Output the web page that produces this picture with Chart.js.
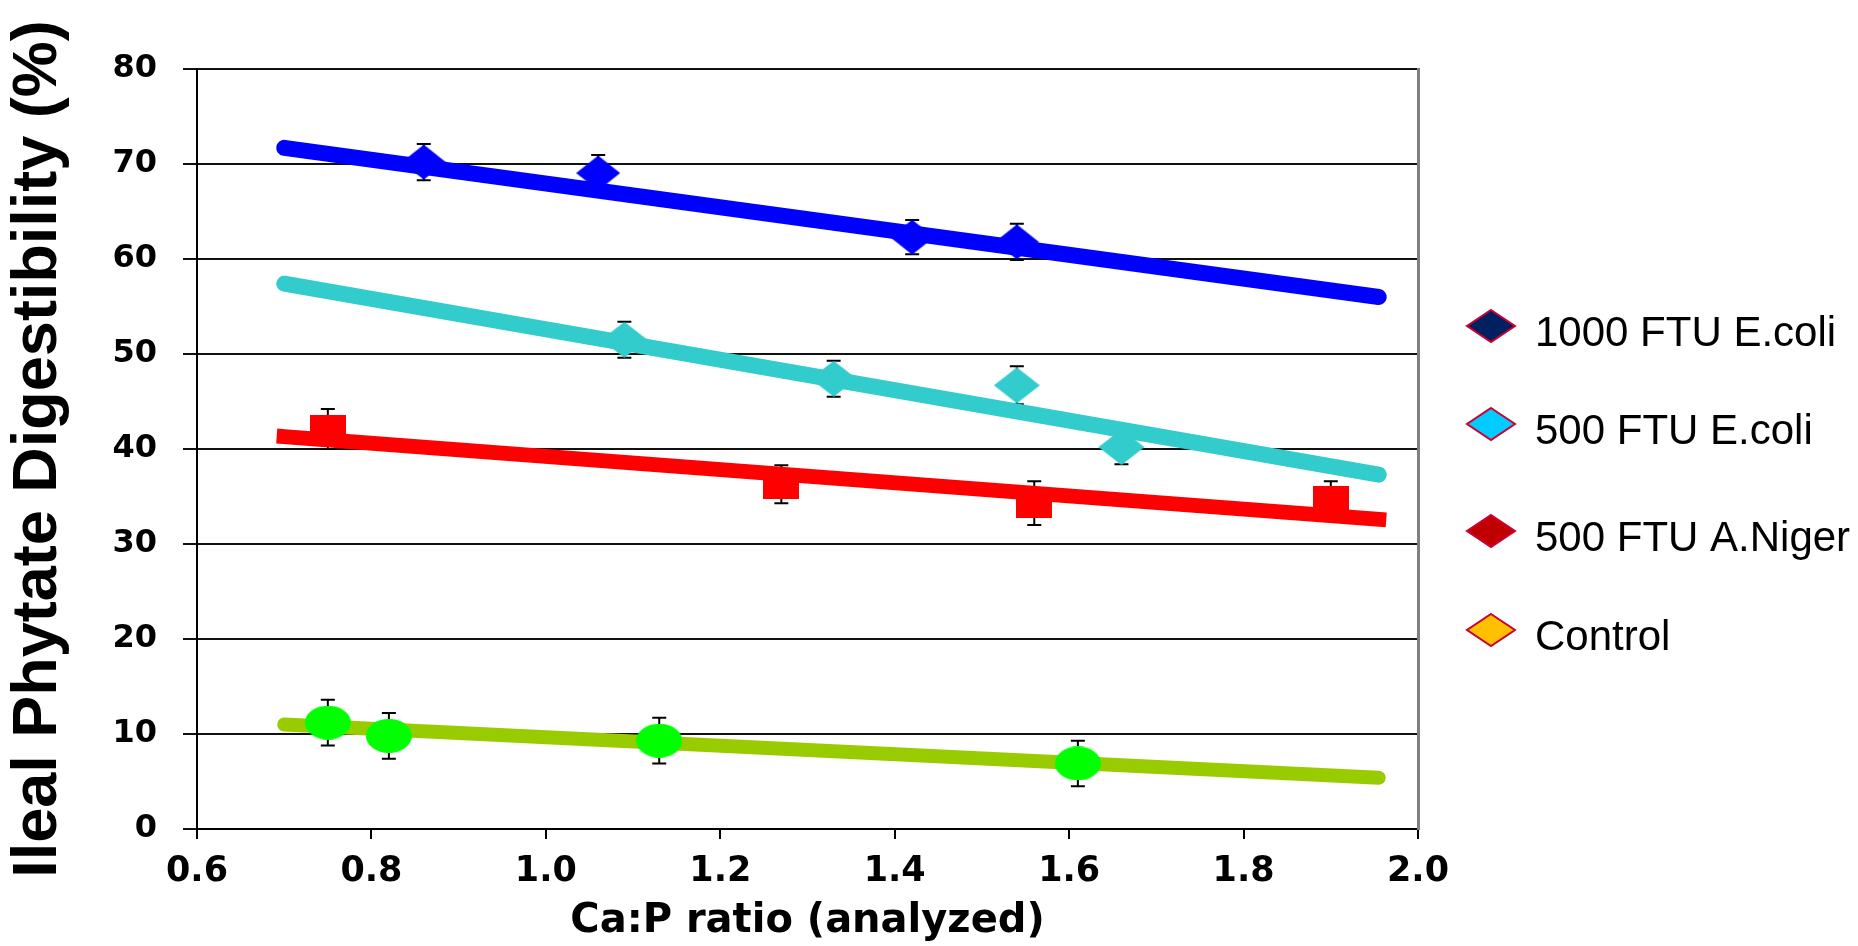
<!DOCTYPE html>
<html>
<head>
<meta charset="utf-8">
<script src="https://cdn.jsdelivr.net/npm/chart.js@4/dist/chart.umd.min.js"></script>
<style>
  html, body { margin: 0; padding: 0; background: #fff; }
  canvas { display: block; }
</style>
</head>
<body>
<canvas id="phytateChart" width="1858" height="946" style="width:1858px;height:946px"></canvas>
<script>
// series names as shown in the legend
var seriesNames = ['1000 FTU E.coli', '500 FTU E.coli', '500 FTU A.Niger', 'Control']

// measured points (Ca:P ratio, digestibility %), with +/- error
var ecoli1000X = [0.86, 1.06, 1.42, 1.54]
var ecoli1000Y = [70.2, 69.05, 62.3, 61.8]
var ecoli1000Err = [1.9, 1.9, 1.8, 1.9]

var ecoli500X = [1.09, 1.33, 1.54, 1.66]
var ecoli500Y = [51.5, 47.4, 46.7, 40.2]
var ecoli500Err = [1.9, 1.9, 2.0, 1.8]

var nigerX = [0.75, 1.27, 1.56, 1.90]
var nigerY = [42.1, 36.3, 34.3, 34.6]
var nigerErr = [2.1, 2.0, 2.3, 2.0]

var controlX = [0.75, 0.82, 1.13, 1.61]
var controlY = [11.2, 9.8, 9.3, 6.9]
var controlErr = [2.4, 2.4, 2.4, 2.4]

// linear trend lines, start and end
var trendX = [0.70, 1.955]
var trend1000 = [71.7, 56.0]
var trend500 = [57.4, 37.3]
var trendNiger = [41.3, 32.6]
var trendControl = [11.0, 5.4]

var xTickStep = 0.2
var yTickStep = 10

function toPoints(xs, ys) {
    var pts = []
    for (var i = 0; i < xs.length; i++) {
        pts.push({ x: xs[i], y: ys[i] })
    }
    return pts
}

function marker(shape, w, h, color) {
    var c = document.createElement('canvas')
    c.width = w
    c.height = h
    var g = c.getContext('2d')
    g.fillStyle = color
    g.beginPath()
    if (shape == 'diamond') {
        g.moveTo(w / 2, 0); g.lineTo(w, h / 2); g.lineTo(w / 2, h); g.lineTo(0, h / 2); g.closePath()
    } else if (shape == 'ellipse') {
        g.ellipse(w / 2, h / 2, w / 2, h / 2, 0, 0, Math.PI * 2)
    } else {
        g.rect(0, 0, w, h)
    }
    g.fill()
    return c
}

// error bars drawn under the markers, through the chart's own scales
var errorBars = {
    id: 'errorBars',
    beforeDatasetsDraw: function(chart) {
        var ctx = chart.ctx
        var xs = chart.scales.x
        var ys = chart.scales.y
        ctx.save()
        ctx.strokeStyle = '#000'
        ctx.lineWidth = 2
        chart.data.datasets.forEach(function(ds) {
            if (!ds.errors) return
            ds.data.forEach(function(p, i) {
                var px = xs.getPixelForValue(p.x)
                var top = ys.getPixelForValue(p.y + ds.errors[i])
                var bot = ys.getPixelForValue(p.y - ds.errors[i])
                ctx.beginPath()
                ctx.moveTo(px, top); ctx.lineTo(px, bot)
                ctx.moveTo(px - 7, top); ctx.lineTo(px + 7, top)
                ctx.moveTo(px - 7, bot); ctx.lineTo(px + 7, bot)
                ctx.stroke()
            })
        })
        ctx.restore()
    }
}

// legend as it appears in the original (its own colours)
var legendFill = ['#002060', '#00ccff', '#c00000', '#ffc000']
var legendBox = {
    id: 'legendBox',
    afterDraw: function(chart, args, opts) {
        var ctx = chart.ctx
        ctx.save()
        seriesNames.forEach(function(name, i) {
            var cx = opts.x
            var cy = opts.y[i]
            ctx.beginPath()
            ctx.moveTo(cx, cy - 16); ctx.lineTo(cx + 24, cy); ctx.lineTo(cx, cy + 16); ctx.lineTo(cx - 24, cy)
            ctx.closePath()
            ctx.fillStyle = legendFill[i]
            ctx.fill()
            ctx.strokeStyle = '#cc0033'
            ctx.lineWidth = 2
            ctx.stroke()
            ctx.fillStyle = '#000'
            ctx.font = '42px "Liberation Sans", Arial, sans-serif'
            ctx.textBaseline = 'middle'
            ctx.textAlign = 'left'
            ctx.fillText(name, opts.textX, cy + 8)
        })
        ctx.restore()
    }
}

var tickFontY = { family: 'DejaVu Sans', size: 32, weight: 'bold' }
var tickFontX = { family: 'DejaVu Sans', size: 35, weight: 'bold' }

var ctx = document.getElementById('phytateChart').getContext('2d')
var phytateChart = new Chart(ctx, {
    type: 'scatter',
    data: {
        datasets: [
            {
                label: seriesNames[0],
                data: toPoints(ecoli1000X, ecoli1000Y),
                errors: ecoli1000Err,
                pointStyle: marker('diamond', 44, 35, '#0000ff'),
                pointRadius: 20
            },
            {
                label: seriesNames[1],
                data: toPoints(ecoli500X, ecoli500Y),
                errors: ecoli500Err,
                pointStyle: marker('diamond', 46, 36, '#33cccc'),
                pointRadius: 20
            },
            {
                label: seriesNames[2],
                data: toPoints(nigerX, nigerY),
                errors: nigerErr,
                pointStyle: marker('square', 36, 29, '#ff0000'),
                pointRadius: 20
            },
            {
                label: seriesNames[3],
                data: toPoints(controlX, controlY),
                errors: controlErr,
                pointStyle: marker('ellipse', 46, 34, '#00ff00'),
                pointRadius: 20
            },
            {
                label: 'trend 1000',
                data: toPoints(trendX, trend1000),
                showLine: true,
                borderColor: '#0000ff',
                borderWidth: 16,
                borderCapStyle: 'round',
                pointRadius: 0
            },
            {
                label: 'trend 500',
                data: toPoints(trendX, trend500),
                showLine: true,
                borderColor: '#33cccc',
                borderWidth: 16,
                borderCapStyle: 'round',
                pointRadius: 0
            },
            {
                label: 'trend niger',
                data: toPoints(trendX, trendNiger),
                showLine: true,
                borderColor: '#ff0000',
                borderWidth: 15,
                borderCapStyle: 'square',
                pointRadius: 0
            },
            {
                label: 'trend control',
                data: toPoints(trendX, trendControl),
                showLine: true,
                borderColor: '#99cc00',
                borderWidth: 14,
                borderCapStyle: 'round',
                pointRadius: 0
            }
        ]
    },
    options: {
        responsive: false,
        animation: false,
        layout: {
            padding: { top: 69, right: 440, left: 0, bottom: 0 }
        },
        plugins: {
            legend: { display: false },
            tooltip: { enabled: false },
            legendBox: { x: 1491, textX: 1535, y: [326, 424, 531, 630] }
        },
        scales: {
            x: {
                type: 'linear',
                min: 0.6,
                max: 2.0,
                ticks: {
                    stepSize: xTickStep,
                    color: '#000',
                    font: tickFontX,
                    padding: 12,
                    callback: function(v) { return v.toFixed(1) }
                },
                grid: { drawOnChartArea: false, tickLength: 10, color: '#000', lineWidth: 2 },
                border: { color: '#000', width: 2 },
                title: {
                    display: true,
                    text: 'Ca:P ratio (analyzed)',
                    color: '#000',
                    font: { family: 'DejaVu Sans', size: 40, weight: 'bold' },
                    padding: { top: 0, bottom: 0 }
                },
                afterFit: function(s) { s.height = 946 - 829 }
            },
            y: {
                min: 0,
                max: 80,
                ticks: {
                    stepSize: yTickStep,
                    color: '#000',
                    font: tickFontY,
                    padding: 26
                },
                grid: { color: '#111', lineWidth: 2, tickLength: 14 },
                border: { color: '#000', width: 2 },
                title: {
                    display: true,
                    text: 'Ileal Phytate Digestibility (%)',
                    color: '#000',
                    font: { family: 'Liberation Sans', size: 63, weight: 'bold' },
                    padding: { top: 1, bottom: 0 }
                },
                afterFit: function(s) { s.width = 197 }
            },
            y2: {
                position: 'right',
                min: 0,
                max: 80,
                ticks: { display: false },
                grid: { display: false },
                border: { color: '#808080', width: 3 },
                afterFit: function(s) { s.width = 0 }
            }
        }
    },
    plugins: [errorBars, legendBox]
})
</script>
</body>
</html>
